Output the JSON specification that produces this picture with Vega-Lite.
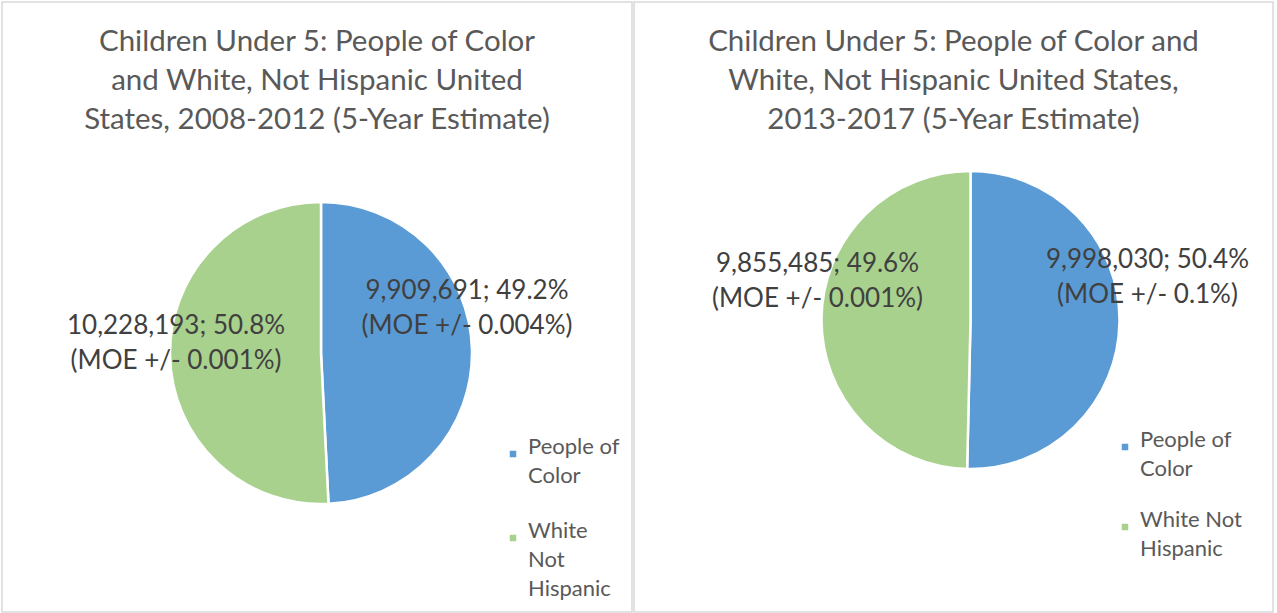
{
  "$schema": "https://vega.github.io/schema/vega-lite/v6.json",
  "padding": {"left": 1, "top": 1, "right": 0, "bottom": 0},
  "background": "white",
  "config": {
    "font": "Lato",
    "view": {"stroke": "#d9d9d9", "strokeWidth": 1.5},
    "concat": {"spacing": 0},
    "style": {"guide-label": {"lineHeight": 29}}
  },
  "datasets": {
    "y2012": [
      {"group": "People of Color", "count": 9909691, "label": "9,909,691; 49.2%\n(MOE +/- 0.004%)"},
      {"group": "White Not Hispanic", "count": 10228193, "label": "10,228,193; 50.8%\n(MOE +/- 0.001%)"}
    ],
    "y2017": [
      {"group": "People of Color", "count": 9998030, "label": "9,998,030; 50.4%\n(MOE +/- 0.1%)"},
      {"group": "White Not Hispanic", "count": 9855485, "label": "9,855,485; 49.6%\n(MOE +/- 0.001%)"}
    ]
  },
  "resolve": {"scale": {"color": "independent"}, "legend": {"color": "independent"}},
  "hconcat": [
    {
      "width": 630,
      "height": 610,
      "view": {"stroke": "#d9d9d9", "strokeWidth": 1.5},
      "title": {
        "text": ["Children Under 5: People of Color", "and White, Not Hispanic United", "States, 2008-2012 (5-Year Estimate)"],
        "offset": -133,
        "fontSize": 29.5,
        "fontWeight": "normal",
        "color": "#595959",
        "lineHeight": 39,
        "anchor": "middle",
        "frame": "group"
      },
      "data": {"name": "y2012"},
      "encoding": {
        "theta": {"field": "count", "type": "quantitative", "stack": true},
        "color": {
          "field": "group",
          "type": "nominal",
          "scale": {"domain": ["People of Color", "White Not Hispanic"], "range": ["#5b9bd5", "#a9d18e"]},
          "legend": {
            "title": null,
            "orient": "bottom-right",
            "offset": 12,
            "symbolType": "square",
            "symbolSize": 64,
            "labelFontSize": 22,
            "labelColor": "#595959",
            "labelBaseline": "alphabetic",
            "labelLimit": 300,
            "rowPadding": 33,
            "labelExpr": "datum.label == 'People of Color' ? ['People of', 'Color'] : ['White', 'Not', 'Hispanic']"
          }
        }
      },
      "layer": [
        {"mark": {"type": "arc", "outerRadius": 151, "stroke": "white", "strokeWidth": 2.5, "xOffset": 4, "yOffset": 46}},
        {
          "mark": {"type": "text", "radius": 146, "xOffset": 4, "yOffset": 46, "dy": -58, "lineBreak": "\n", "fontSize": 26, "lineHeight": 35, "baseline": "middle"},
          "encoding": {
            "order": {"field": "group", "type": "nominal", "sort": "ascending"},
            "text": {"condition": {"test": "datum.group == 'People of Color'", "field": "label"}, "value": ""},
            "color": {"value": "#404040"}
          }
        },
        {
          "mark": {"type": "text", "radius": 145, "xOffset": 4, "yOffset": 46, "dy": -31, "lineBreak": "\n", "fontSize": 26, "lineHeight": 35, "baseline": "middle"},
          "encoding": {
            "order": {"field": "group", "type": "nominal", "sort": "ascending"},
            "text": {"condition": {"test": "datum.group == 'White Not Hispanic'", "field": "label"}, "value": ""},
            "color": {"value": "#404040"}
          }
        }
      ]
    },
    {
      "width": 639,
      "height": 610,
      "view": {"stroke": "#d9d9d9", "strokeWidth": 1.5},
      "title": {
        "text": ["Children Under 5: People of Color and", "White, Not Hispanic United States,", "2013-2017 (5-Year Estimate)"],
        "offset": -133,
        "fontSize": 29.5,
        "fontWeight": "normal",
        "color": "#595959",
        "lineHeight": 39,
        "anchor": "middle",
        "frame": "group"
      },
      "data": {"name": "y2017"},
      "encoding": {
        "theta": {"field": "count", "type": "quantitative", "stack": true},
        "color": {
          "field": "group",
          "type": "nominal",
          "scale": {"domain": ["People of Color", "White Not Hispanic"], "range": ["#5b9bd5", "#a9d18e"]},
          "legend": {
            "title": null,
            "orient": "none",
            "legendX": 480,
            "legendY": 434,
            "symbolType": "square",
            "symbolSize": 64,
            "labelFontSize": 22,
            "labelColor": "#595959",
            "labelBaseline": "alphabetic",
            "labelLimit": 300,
            "rowPadding": 29,
            "labelExpr": "datum.label == 'People of Color' ? ['People of', 'Color'] : ['White Not', 'Hispanic']"
          }
        }
      },
      "layer": [
        {"mark": {"type": "arc", "outerRadius": 149, "stroke": "white", "strokeWidth": 2.5, "xOffset": 17, "yOffset": 13}},
        {
          "mark": {"type": "text", "radius": 177, "xOffset": 17, "yOffset": 13, "dy": -62, "lineBreak": "\n", "fontSize": 26, "lineHeight": 35, "baseline": "middle"},
          "encoding": {
            "order": {"field": "group", "type": "nominal", "sort": "ascending"},
            "text": {"condition": {"test": "datum.group == 'People of Color'", "field": "label"}, "value": ""},
            "color": {"value": "#404040"}
          }
        },
        {
          "mark": {"type": "text", "radius": 153, "xOffset": 17, "yOffset": 13, "dy": -54, "lineBreak": "\n", "fontSize": 26, "lineHeight": 35, "baseline": "middle"},
          "encoding": {
            "order": {"field": "group", "type": "nominal", "sort": "ascending"},
            "text": {"condition": {"test": "datum.group == 'White Not Hispanic'", "field": "label"}, "value": ""},
            "color": {"value": "#404040"}
          }
        }
      ]
    }
  ]
}
